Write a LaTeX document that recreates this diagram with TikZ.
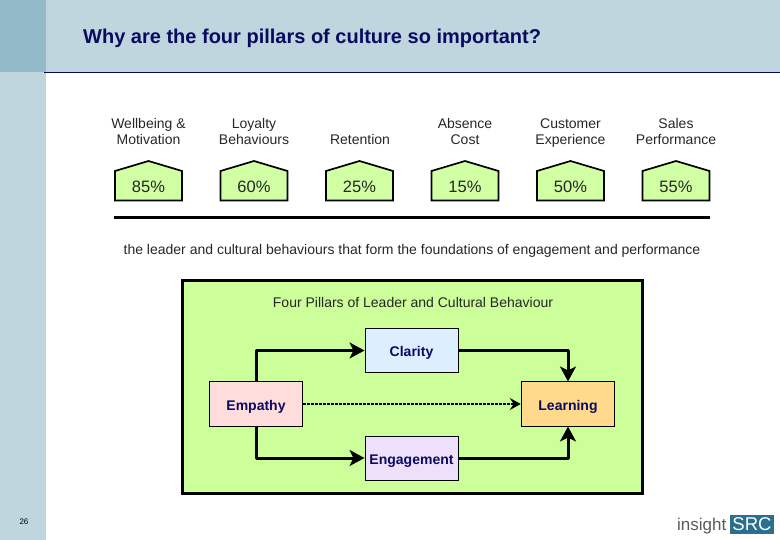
\documentclass[tikz,border=0pt]{standalone}
\usepackage{fontspec}
\setmainfont{Liberation Sans}
\usetikzlibrary{arrows.meta}
\definecolor{bandlight}{HTML}{BFD6DF}
\definecolor{banddark}{HTML}{93BAC8}
\definecolor{navy}{HTML}{0A0A60}
\definecolor{lime}{HTML}{CCFF99}
\definecolor{claritybg}{HTML}{DDEEFF}
\definecolor{empathybg}{HTML}{FFDDDD}
\definecolor{learnbg}{HTML}{FFD98C}
\definecolor{engagebg}{HTML}{EEE0FA}
\definecolor{srcblue}{HTML}{2A6F8E}
\tikzset{
 x=1pt,y=-1pt,
 head/.style={font=\fontsize{14}{16}\selectfont,text=black!85,align=center,anchor=center,inner sep=0pt},
 pct/.style={font=\fontsize{16.5}{18}\selectfont,text=black!85,anchor=center,inner sep=0pt},
 pillar/.style={draw=black,line width=1pt,minimum width=#1,minimum height=44pt,inner sep=0pt,text height=12pt,text depth=0pt,font=\fontsize{14}{16}\bfseries\selectfont,text=navy},
 house/.style={draw=black,line width=1.7pt,fill=lime!90!white,line join=miter},
 conn/.style={line width=3pt,line join=round,-{Stealth[length=15pt,width=16pt,inset=4pt]}},
}
\begin{document}
\begin{tikzpicture}
\useasboundingbox (0,0) rectangle (780,540);
\fill[bandlight] (0,0) rectangle (780,72);
\fill[bandlight] (0,72) rectangle (46,540);
\fill[banddark] (0,0) rectangle (46,72);
\draw[navy!80!black,line width=0.8pt] (44,72.3) -- (780,72.3);
\node[anchor=west,inner sep=0pt,text=navy,font=\fontsize{20}{24}\bfseries\selectfont] (title) at (83,38) {Why are the four pillars of culture so important?};
% houses
\foreach \n/\l/\p in {a/115/85\%, b/220.5/60\%, c/326/25\%, d/431.5/15\%, e/537/50\%, f/642.5/55\%}{
 \draw[house] (\l,171) -- (\l+33.5,161) -- (\l+67,171) -- (\l+67,200.5) -- (\l,200.5) -- cycle;
 \node[pct] (p\n) at (\l+33.5,187) {\p};
}
\node[head] (ta) at (148.5,133) {Wellbeing \&\strut\\Motivation\strut};
\node[head] (tb) at (254,133) {Loyalty\strut\\Behaviours\strut};
\node[head] (tc) at (360,141) {Retention\strut};
\node[head] (td) at (465,133) {Absence\strut\\Cost\strut};
\node[head] (te) at (570.5,133) {Customer\strut\\Experience\strut};
\node[head] (tf) at (676,133) {Sales\strut\\Performance\strut};
\draw[line width=3pt] (114,217.3) -- (710,217.3);
\node[head] (sub) at (412,250.5) {the leader and cultural behaviours that form the foundations of engagement and performance};
% main panel
\draw[fill=lime,draw=black,line width=3pt] (182.3,280.5) rectangle (642.5,493.5);
\node[head] (ptitle) at (413,302) {Four Pillars of Leader and Cultural Behaviour};
\node[pillar=93pt,fill=claritybg] (clarity) at (411.5,350.5) {Clarity};
\node[pillar=92.5pt,fill=empathybg] (empathy) at (256,404) {Empathy};
\node[pillar=93.5pt,fill=learnbg] (learning) at (568,404) {Learning};
\node[pillar=93pt,fill=engagebg] (engagement) at (411.5,458) {Engagement};
\draw[conn] (empathy.north) |- (clarity.west);
\draw[conn] (empathy.south) |- (engagement.west);
\draw[conn] (clarity.east) -| (learning.north);
\draw[conn] (engagement.east) -| (learning.south);
\draw[line width=2.6pt,dash pattern=on 3pt off 1pt,-{Stealth[length=11pt,width=12pt,inset=4pt]}] (empathy.east) -- (learning.west);
\node[font=\fontsize{8}{9}\selectfont,inner sep=0pt] (page) at (24,522) {26};
% logo
\node[anchor=east,inner sep=0pt,text=black!65,font=\fontsize{17}{20}\selectfont] (ins) at (726.5,526) {insight};
\node[anchor=center,fill=srcblue,text=white,inner sep=0pt,minimum width=44pt,minimum height=19.5pt,font=\fontsize{18.5}{20}\selectfont] (src) at (752,524.5) {SRC};
\end{tikzpicture}
\end{document}
